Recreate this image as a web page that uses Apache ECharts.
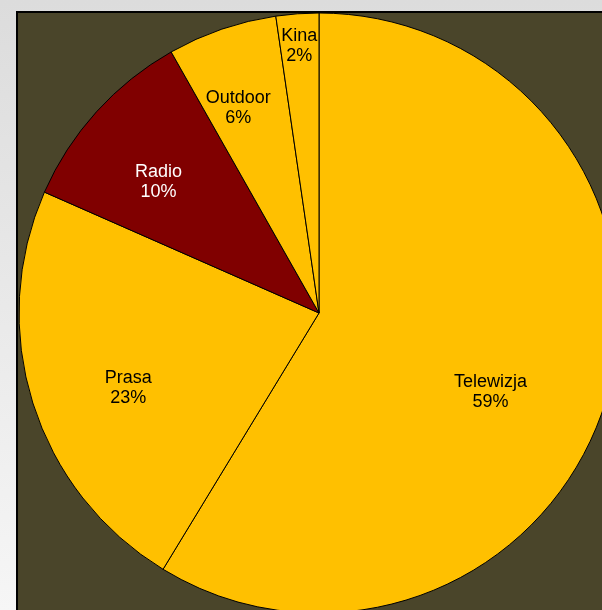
<!DOCTYPE html>
<html>
<head>
<meta charset="utf-8">
<script src="https://cdn.jsdelivr.net/npm/echarts@6/dist/echarts.min.js"></script>
<style>
  html, body { margin: 0; padding: 0; }
  #chart { width: 602px; height: 610px; }
</style>
</head>
<body>
<div id="chart"></div>
<script>
// udział mediów w wydatkach reklamowych
const categories = ['Telewizja', 'Prasa', 'Radio', 'Outdoor', 'Kina']
const values = [58.7, 22.9, 10.2, 5.9, 2.3]
const sliceColors = ['#FFC000', '#FFC000', '#800000', '#FFC000', '#FFC000']
const labelColors = ['#000', '#000', '#fff', '#000', '#000']

// przesunięcia etykiet (jak w oryginale z Excela)
const labelShift = [[-24, 24], [3, 14], [-10, 5], [-15, -13], [-5, -64]]

const myChart = echarts.init(document.getElementById('chart'))

const pieData = categories.map((name, i) => {
  return {
    name: name,
    value: values[i],
    itemStyle: { color: sliceColors[i] },
    label: { color: labelColors[i] }
  }
})

const option = {
  animation: false,
  backgroundColor: {
    type: 'linear',
    x: 0, y: 0, x2: 0, y2: 1,
    colorStops: [
      { offset: 0, color: '#dcdcdc' },
      { offset: 1, color: '#f6f6f6' }
    ]
  },
  graphic: [
    {
      type: 'rect',
      z: -10,
      shape: { x: 17, y: 12, width: 620, height: 640 },
      style: { fill: '#4A452A', stroke: '#000', lineWidth: 2 }
    }
  ],
  series: [
    {
      type: 'pie',
      center: [319, 313],
      radius: [0, 300],
      startAngle: 90,
      clockwise: true,
      percentPrecision: 0,
      avoidLabelOverlap: false,
      itemStyle: {
        borderColor: '#000',
        borderWidth: 1
      },
      label: { show: false },
      labelLine: { show: false },
      emphasis: { disabled: true },
      data: pieData
    },
    {
      // przezroczysta warstwa tylko dla etykiet
      type: 'pie',
      silent: true,
      center: [319, 313],
      radius: [100, 300],
      startAngle: 90,
      clockwise: true,
      percentPrecision: 0,
      avoidLabelOverlap: false,
      itemStyle: { color: 'transparent', borderWidth: 0 },
      label: {
        show: true,
        position: 'inside',
        formatter: '{b}\n{d}%',
        fontFamily: 'Liberation Sans, Arial, sans-serif',
        fontSize: 18,
        lineHeight: 20,
        align: 'center'
      },
      labelLine: { show: false },
      labelLayout: (params) => {
        const s = labelShift[params.dataIndex]
        return { dx: s[0], dy: s[1] }
      },
      emphasis: { disabled: true },
      data: pieData.map((d) => ({ name: d.name, value: d.value, label: d.label }))
    }
  ]
}

myChart.setOption(option)
</script>
</body>
</html>
